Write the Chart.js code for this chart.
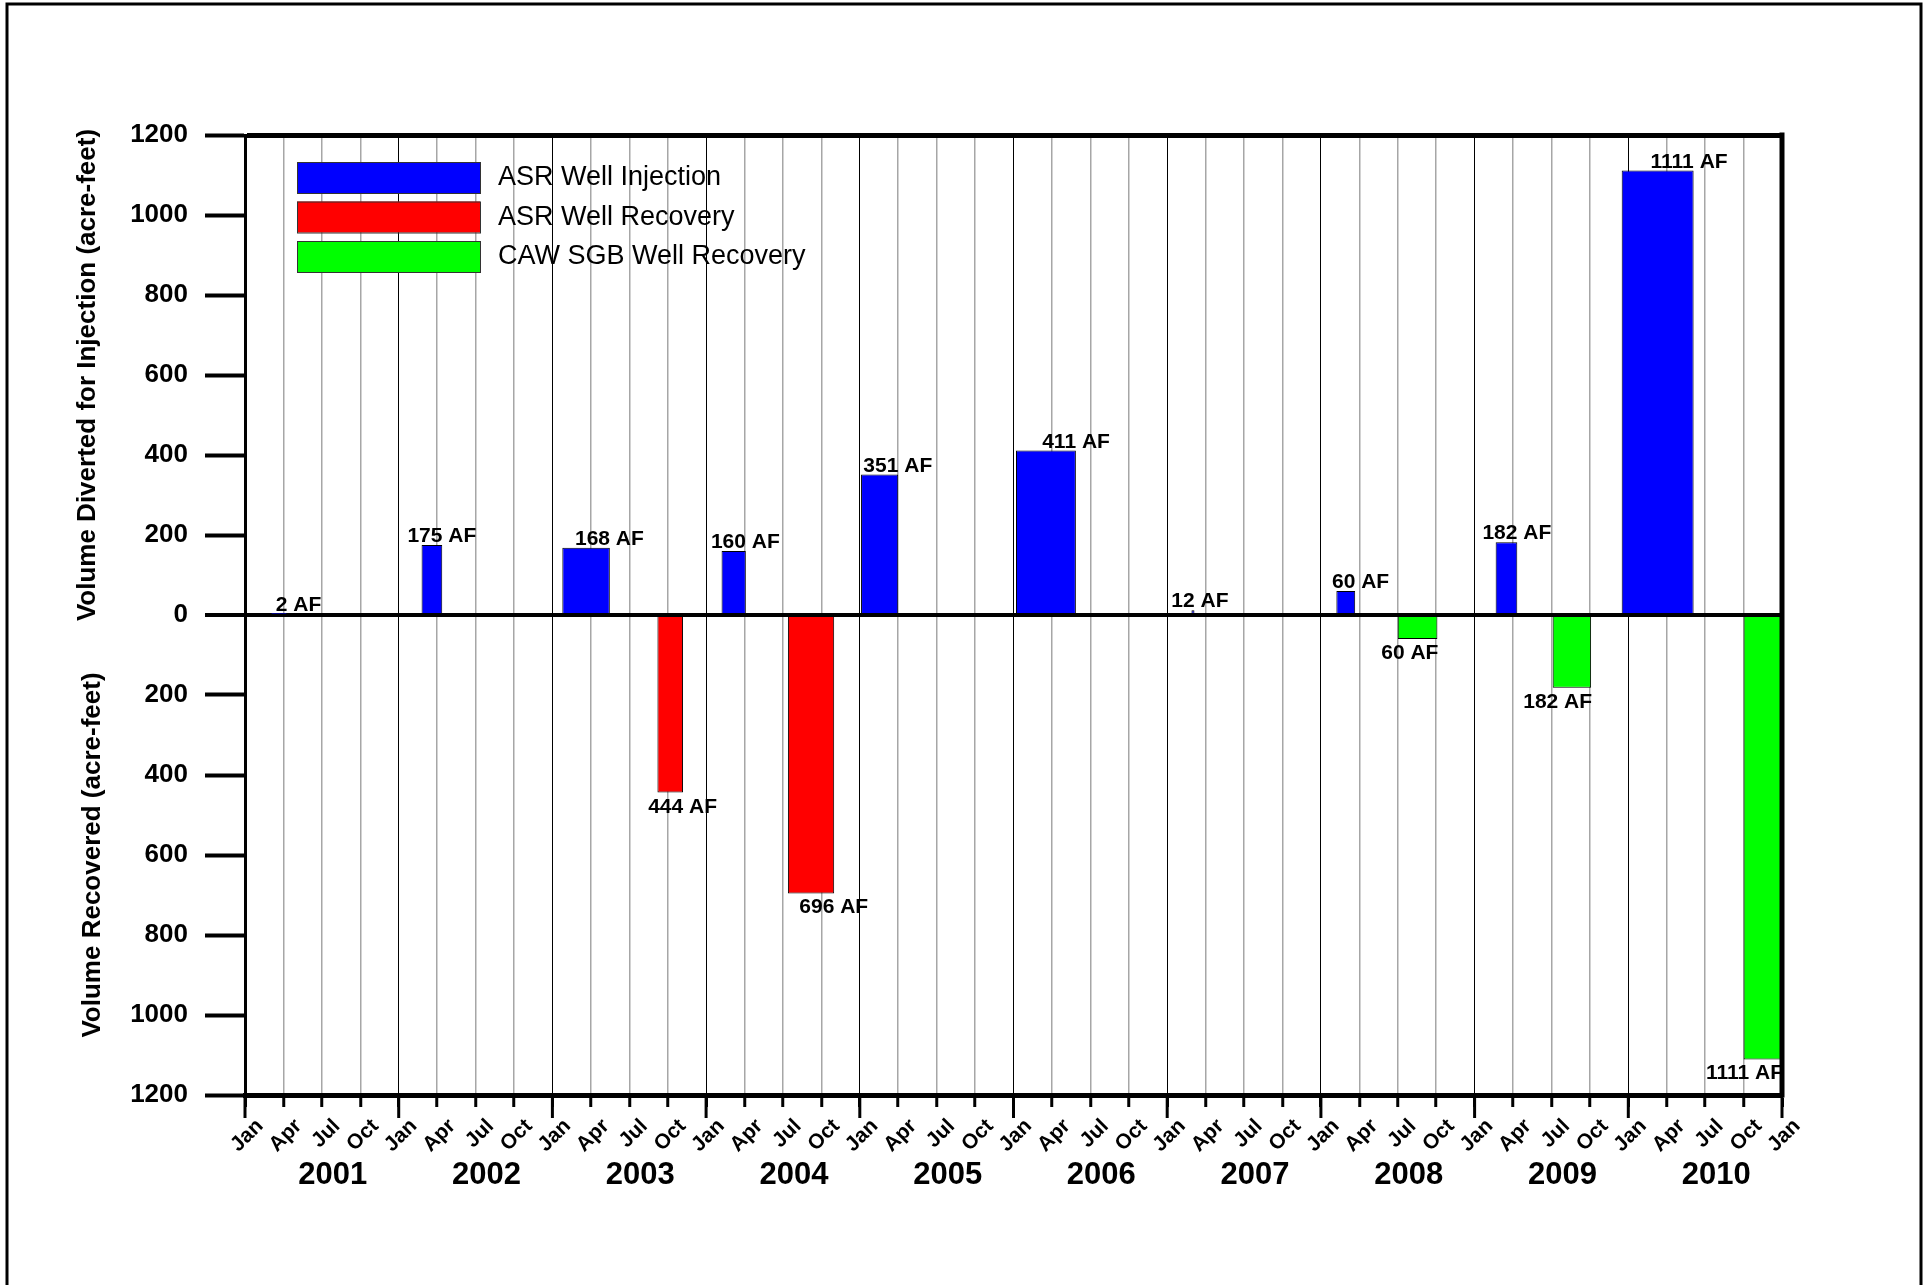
<!DOCTYPE html>
<html>
<head>
<meta charset="utf-8">
<title>ASR Well Injection and Recovery</title>
<script src="https://cdn.jsdelivr.net/npm/chart.js@4.4.1/dist/chart.umd.min.js"></script>
<style>
  html, body { margin: 0; padding: 0; background: #fff; }
  canvas { display: block; }
</style>
</head>
<body>
<canvas id="chartdiv" width="1925" height="1285"></canvas>
<script>
var FONT = "Arial, 'Liberation Sans', sans-serif";

// pumping periods (start / end dates) and volumes in acre-feet
var injStart  = ['2001-03-01', '2002-02-23', '2003-01-25', '2004-02-07', '2005-01-04', '2006-01-07', '2007-02-26', '2008-02-07', '2009-02-19', '2009-12-16'];
var injEnd    = ['2001-04-10', '2002-04-13', '2003-05-16', '2004-04-04', '2005-04-01', '2006-05-28', '2007-03-05', '2008-03-22', '2009-04-11', '2010-06-04'];
var injVolume = [2, 175, 168, 160, 351, 411, 12, 60, 182, 1111];

var asrStart  = ['2003-09-07', '2004-07-13'];
var asrEnd    = ['2003-11-07', '2004-11-01'];
var asrVolume = [444, 696];

var cawStart  = ['2008-07-01', '2009-07-04', '2010-10-01'];
var cawEnd    = ['2008-10-04', '2009-10-04', '2011-01-01'];
var cawVolume = [60, 182, 1111];

var yearLabels = ['2001', '2002', '2003', '2004', '2005', '2006', '2007', '2008', '2009', '2010'];
var quarterLabels = ['Jan', 'Apr', 'Jul', 'Oct'];

// x axis runs in months counted from Jan 2001
function monthsFrom2001(s){
  var p = s.split('-').map(Number);
  var days = new Date(p[0], p[1], 0).getDate();
  return (p[0] - 2001) * 12 + (p[1] - 1) + (p[2] - 1) / days;
}

function spanData(starts, ends, vols, sign){
  return vols.map(function(v, i){
    var a = monthsFrom2001(starts[i]), b = monthsFrom2001(ends[i]);
    return {x: (a + b) / 2, y: sign * v, x0: a, x1: b, vol: v};
  });
}

// stretch each bar over its own period
var spanBars = {
  id: 'spanBars',
  afterDatasetsUpdate: function(chart){
    var xs = chart.scales.x;
    chart.data.datasets.forEach(function(ds, d){
      chart.getDatasetMeta(d).data.forEach(function(bar, i){
        var l = xs.getPixelForValue(ds.data[i].x0), r = xs.getPixelForValue(ds.data[i].x1);
        bar.x = (l + r) / 2;
        bar.width = r - l;
      });
    });
  }
};

var decorations = {
  id: 'decorations',
  afterDraw: function(chart){
    var ctx = chart.ctx, ca = chart.chartArea, xs = chart.scales.x, ys = chart.scales.y;
    ctx.save();

    // page frame
    ctx.strokeStyle = '#000';
    ctx.lineWidth = 3;
    ctx.beginPath();
    ctx.moveTo(7, 1285); ctx.lineTo(7, 4); ctx.lineTo(1921, 4); ctx.lineTo(1921, 1285);
    ctx.stroke();

    // right edge of the plot
    ctx.lineWidth = 5;
    ctx.beginPath();
    ctx.moveTo(ca.right, ca.top - 2.5); ctx.lineTo(ca.right, ca.bottom + 2.5);
    ctx.stroke();

    // longer ticks at each new year
    ctx.lineWidth = 3;
    for (var m = 0; m <= 120; m += 12){
      var px = xs.getPixelForValue(m);
      ctx.beginPath();
      ctx.moveTo(px, ca.bottom); ctx.lineTo(px, ca.bottom + 23);
      ctx.stroke();
    }

    // two y axis titles, one per half
    ctx.fillStyle = '#000';
    ctx.font = 'bold 26px ' + FONT;
    ctx.textAlign = 'center';
    ctx.textBaseline = 'middle';
    [[88, 600, 'Volume Diverted for Injection (acre-feet)'], [93, -600, 'Volume Recovered (acre-feet)']].forEach(function(t){
      ctx.save();
      ctx.translate(t[0], ys.getPixelForValue(t[1]));
      ctx.rotate(-Math.PI / 2);
      ctx.fillText(t[2], 0, 0);
      ctx.restore();
    });

    // legend
    chart.data.datasets.forEach(function(ds, i){
      var bx = ca.left + 52, by = ca.top + 27 + i * 39.5;
      ctx.fillStyle = ds.backgroundColor;
      ctx.fillRect(bx, by, 183, 31);
      ctx.strokeStyle = '#333';
      ctx.lineWidth = 1;
      ctx.strokeRect(bx + 0.5, by + 0.5, 183, 31);
      ctx.fillStyle = '#000';
      ctx.font = '27px ' + FONT;
      ctx.textAlign = 'left';
      ctx.textBaseline = 'middle';
      ctx.fillText(ds.label, bx + 201, by + 16);
    });

    // volume labels
    ctx.font = 'bold 21px ' + FONT;
    ctx.textAlign = 'right';
    ctx.textBaseline = 'alphabetic';
    chart.data.datasets.forEach(function(ds, d){
      chart.getDatasetMeta(d).data.forEach(function(bar, i){
        var p = ds.data[i];
        var right = bar.x + bar.width / 2 + ds.labelDx;
        var y = p.y >= 0 ? bar.y - 3 : bar.y + 20;
        ctx.fillText(p.vol + ' AF', right, y);
      });
    });

    ctx.restore();
  }
};

var datasets = [
  {label: 'ASR Well Injection', data: spanData(injStart, injEnd, injVolume, 1), backgroundColor: '#0000ff', labelDx: 34},
  {label: 'ASR Well Recovery', data: spanData(asrStart, asrEnd, asrVolume, -1), backgroundColor: '#ff0000', labelDx: 34},
  {label: 'CAW SGB Well Recovery', data: spanData(cawStart, cawEnd, cawVolume, -1), backgroundColor: '#00ff00', labelDx: 1}
];
datasets.forEach(function(ds){
  ds.borderColor = '#000';
  ds.borderWidth = 1;
  ds.grouped = false;
  ds.xAxisID = 'x';
  ds.yAxisID = 'y';
});

var chart = new Chart(document.getElementById('chartdiv').getContext('2d'), {
  type: 'bar',
  data: {datasets: datasets},
  plugins: [spanBars, decorations],
  options: {
    responsive: false,
    animation: false,
    events: [],
    layout: {padding: {left: 0, top: 135, right: 143, bottom: 0}},
    plugins: {legend: {display: false}, tooltip: {enabled: false}},
    scales: {
      x: {
        type: 'linear', position: 'bottom', min: 0, max: 120, offset: false,
        afterFit: function(s){ s.height = 62; },
        grid: {
          offset: false, drawOnChartArea: true, drawTicks: true, tickLength: 12,
          color: function(c){ return c.tick.value % 12 === 0 ? '#000' : '#a6a6a6'; },
          lineWidth: function(c){ return c.tick.value % 12 === 0 ? 1 : 1.5; },
          tickColor: '#000', tickWidth: 3
        },
        border: {display: true, color: '#000', width: 5},
        ticks: {
          stepSize: 3, autoSkip: false, minRotation: 45, maxRotation: 45,
          labelOffset: 15, padding: 7, color: '#000',
          font: {family: FONT, size: 21, weight: 'bold'},
          callback: function(v){ return quarterLabels[Math.round(v / 3) % 4]; }
        }
      },
      years: {
        type: 'linear', axis: 'x', position: 'bottom', weight: 1, min: 0, max: 120, offset: false,
        afterFit: function(s){ s.height = 128; },
        afterBuildTicks: function(s){
          s.ticks = yearLabels.map(function(y, i){ return {value: 6 + 12 * i}; });
        },
        grid: {display: false, drawTicks: false},
        border: {display: false},
        ticks: {
          autoSkip: false, maxRotation: 0, padding: 0, labelOffset: 11, color: '#000',
          font: {family: FONT, size: 31, weight: 'bold'},
          callback: function(v, i){ return yearLabels[i]; }
        }
      },
      y: {
        min: -1200, max: 1200, z: 1,
        afterFit: function(s){ s.width = 245; },
        grid: {
          drawOnChartArea: true, drawTicks: true, tickLength: 40,
          color: function(c){ var v = c.tick.value; return (v === 0 || Math.abs(v) === 1200) ? '#000' : 'rgba(0,0,0,0)'; },
          lineWidth: function(c){ var v = c.tick.value; return Math.abs(v) === 1200 ? 5 : (v === 0 ? 4 : 1); },
          tickColor: '#000', tickWidth: 4
        },
        border: {display: true, color: '#000', width: 3},
        ticks: {
          stepSize: 200, padding: 17, color: '#000',
          font: {family: FONT, size: 26, weight: 'bold'},
          callback: function(v){ return Math.abs(v); }
        }
      }
    }
  }
});
</script>
</body>
</html>
